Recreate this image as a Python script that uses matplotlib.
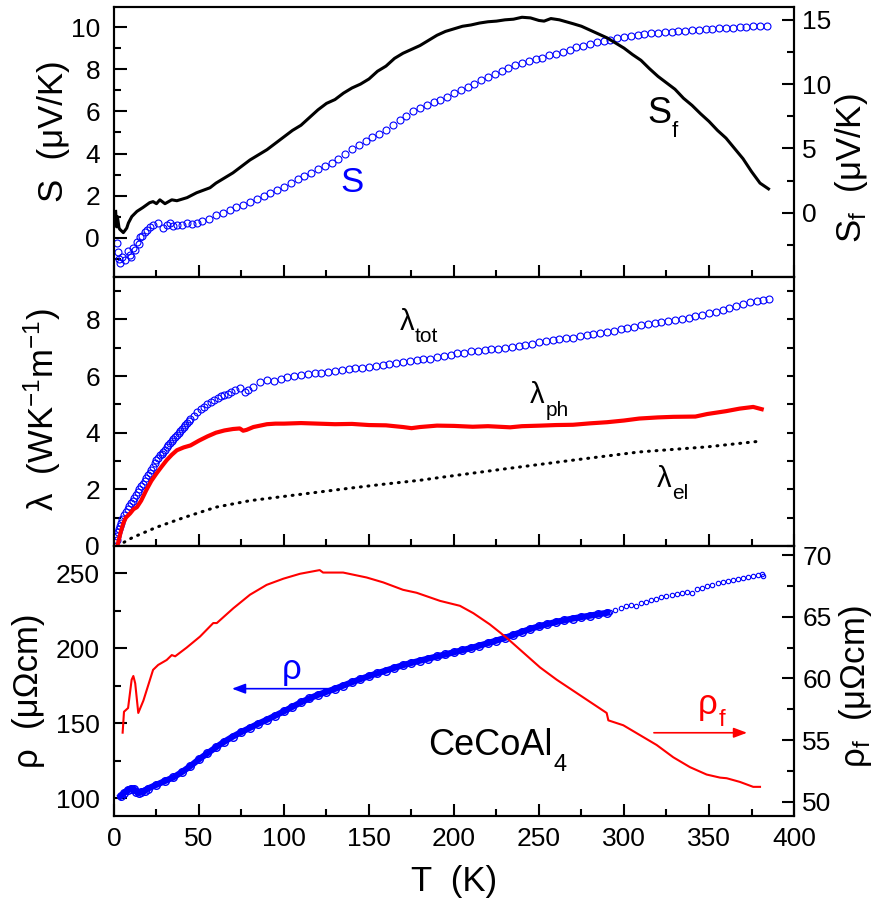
import matplotlib
matplotlib.use('Agg')
import matplotlib.pyplot as plt
from matplotlib.ticker import MultipleLocator, FixedLocator
import numpy as np

plt.rcParams['font.family'] = ['Liberation Sans', 'DejaVu Sans']
plt.rcParams['mathtext.fontset'] = 'custom'
plt.rcParams['mathtext.rm'] = 'Liberation Sans'
plt.rcParams['mathtext.it'] = 'Liberation Sans:italic'

# --- thermopower S (left axis) ---
T_S = [2.0, 2.5, 3.0, 3.5, 5.0, 6.5, 8.0, 9.4, 10.3, 11.0, 12.3, 13.5, 14.5, 15.3, 16.5,
       18.0, 19.5, 21.0, 23.0, 26.0, 29.0, 31.0, 33.0, 35.0, 37.0, 40.0, 43.0, 46.0, 48.6,
       52, 56, 60, 64, 68, 72, 76, 80, 84, 88, 92, 96, 100, 104, 108, 112, 116, 120,
       124, 128, 132, 136, 140, 144, 148, 152, 156, 160, 164, 168, 172, 176, 180, 184,
       188, 192, 196, 200, 204, 208, 212, 216, 220, 224, 228, 232, 236, 240, 244, 248,
       252, 256, 260, 264, 268, 272, 276, 280, 284, 288, 292, 296, 300, 304, 308, 312,
       316, 320, 324, 328, 332, 336, 340, 344, 348, 352, 356, 360, 364, 368, 372, 376,
       380, 384]
S_vals = [-0.25, -0.66, -1.0, -1.2, -0.9, -1.05, -0.6, -0.8, -0.9, -0.47, -0.55, -0.2,
          -0.3, 0.05, 0.1, 0.28, 0.4, 0.52, 0.62, 0.71, 0.47, 0.6, 0.71, 0.55, 0.62, 0.6,
          0.71, 0.66, 0.71, 0.8, 0.92, 1.08, 1.2, 1.32, 1.45, 1.57, 1.7, 1.83, 1.97, 2.12,
          2.28, 2.43, 2.6, 2.78, 2.95, 3.1, 3.25, 3.4, 3.57, 3.75, 3.98, 4.2, 4.42, 4.6,
          4.78, 4.95, 5.13, 5.35, 5.6, 5.8, 6.0, 6.15, 6.3, 6.45, 6.55, 6.7, 6.85, 7.0,
          7.15, 7.32, 7.5, 7.65, 7.78, 7.92, 8.05, 8.18, 8.28, 8.38, 8.47, 8.55, 8.65,
          8.73, 8.83, 8.93, 9.03, 9.12, 9.2, 9.27, 9.34, 9.4, 9.46, 9.52, 9.58, 9.63, 9.67,
          9.7, 9.73, 9.76, 9.78, 9.8, 9.83, 9.85, 9.88, 9.9, 9.91, 9.93, 9.95, 9.97, 9.98,
          10.0, 10.03, 10.05, 10.07]

# --- S_f (right axis) ---
T_Sf = [1.0, 1.5, 2.0, 3.0, 3.5, 5.5, 7.5, 8.5, 10.5, 13.5, 17, 21, 23, 25, 27, 30, 34,
        37, 43, 48.6, 56.5, 60, 65, 70, 75, 80, 85, 90, 95, 100, 105, 110, 115, 120, 125,
        130, 135, 140, 145, 150, 155, 160, 165, 170, 175, 180, 185, 190, 195, 200, 205,
        210, 215, 220, 225, 230, 235, 240, 245, 250, 253, 257, 262, 266, 270, 275, 280,
        285, 290, 295, 300, 305, 310, 315, 320, 325, 330, 335, 340, 345, 350, 355, 360,
        365, 370, 375, 380, 385]
Sf_vals = [0.1, -1.1, -0.3, -1.2, -1.3, -1.55, -1.2, -0.8, -0.3, 0.1, 0.4, 0.78, 0.86,
           0.7, 1.0, 0.7, 1.0, 0.93, 1.17, 1.55, 1.94, 2.3, 2.7, 3.1, 3.6, 4.1, 4.5, 4.9,
           5.4, 5.9, 6.4, 6.8, 7.4, 8.0, 8.5, 8.8, 9.3, 9.7, 10.0, 10.4, 11.0, 11.4, 12.0,
           12.4, 12.7, 13.0, 13.4, 13.8, 14.1, 14.3, 14.5, 14.6, 14.75, 14.85, 14.9, 15.0,
           15.05, 15.2, 15.15, 14.95, 14.9, 15.1, 15.0, 14.85, 14.7, 14.5, 14.2, 13.9,
           13.6, 13.2, 12.8, 12.3, 11.85, 11.2, 10.6, 10.1, 9.6, 8.9, 8.35, 7.7, 7.1, 6.4,
           5.8, 5.0, 4.2, 3.2, 2.3, 1.85]

# --- thermal conductivity ---
T_tot = [1.5, 2, 2.5, 3, 3.5, 4, 5, 6, 7, 8, 9, 10, 11, 12, 13, 14, 15, 16, 17, 18, 19,
         20, 21, 22, 23, 24, 25, 26, 27, 28, 29, 30, 31, 32, 33, 34, 35, 36, 37, 38, 39,
         40, 41, 42, 43, 44, 45, 47, 49, 51, 53, 55, 57, 59, 61, 63, 65, 67, 69, 71, 74,
         77, 79, 82, 86, 90, 94, 98, 102, 106, 110, 114, 118, 122, 126, 130, 134, 138,
         142, 146, 150, 154, 158, 162, 166, 170, 174, 178, 182, 186, 190, 194, 198, 202,
         206, 210, 214, 218, 222, 226, 230, 234, 238, 242, 246, 250, 254, 258, 262, 266,
         270, 274, 278, 282, 286, 290, 294, 298, 302, 306, 310, 314, 318, 322, 326, 330,
         334, 338, 342, 346, 350, 354, 358, 362, 366, 370, 374, 378, 382, 385]
lam_tot = [0.2, 0.35, 0.5, 0.6, 0.7, 0.8, 0.95, 1.1, 1.2, 1.3, 1.4, 1.5, 1.58, 1.68, 1.8,
           1.9, 2.0, 2.1, 2.2, 2.3, 2.4, 2.5, 2.58, 2.7, 2.8, 2.92, 3.02, 3.1, 3.2, 3.26,
           3.32, 3.4, 3.5, 3.55, 3.62, 3.7, 3.78, 3.85, 3.92, 3.98, 4.05, 4.12, 4.2, 4.27,
           4.35, 4.42, 4.5, 4.6, 4.72, 4.82, 4.92, 5.0, 5.08, 5.16, 5.23, 5.28, 5.34, 5.38,
           5.44, 5.5, 5.58, 5.45, 5.5, 5.62, 5.78, 5.85, 5.84, 5.9, 5.95, 6.0, 6.03, 6.07,
           6.1, 6.12, 6.15, 6.18, 6.2, 6.25, 6.28, 6.3, 6.33, 6.36, 6.4, 6.43, 6.47, 6.5,
           6.52, 6.55, 6.6, 6.62, 6.66, 6.7, 6.75, 6.8, 6.83, 6.87, 6.9, 6.93, 6.95, 6.97,
           6.99, 7.02, 7.06, 7.1, 7.15, 7.2, 7.23, 7.27, 7.3, 7.33, 7.35, 7.4, 7.44, 7.48,
           7.52, 7.56, 7.6, 7.65, 7.7, 7.75, 7.8, 7.84, 7.88, 7.92, 7.95, 7.98, 8.02, 8.06,
           8.12, 8.17, 8.22, 8.28, 8.34, 8.4, 8.46, 8.54, 8.6, 8.66, 8.7, 8.73]

T_ph = [2, 3, 4, 5.5, 7, 9.5, 11.5, 13.5, 16, 19, 22, 25, 28, 31, 34, 37, 41, 45, 50, 55,
        60, 65, 70, 74, 76, 78, 82, 86, 90, 95, 100, 110, 120, 130, 140, 150, 160, 170,
        175, 180, 190, 200, 211, 220, 233, 240, 251, 260, 270, 280, 290, 300, 309, 320,
        329, 342, 349, 360, 368, 376, 381]
lam_ph = [0.0, 0.25, 0.5, 0.8, 1.0, 1.15, 1.3, 1.37, 1.6, 1.97, 2.3, 2.56, 2.8, 3.03,
          3.22, 3.38, 3.48, 3.55, 3.72, 3.87, 4.0, 4.08, 4.13, 4.15, 4.07, 4.1, 4.2, 4.25,
          4.3, 4.32, 4.32, 4.34, 4.32, 4.3, 4.31, 4.27, 4.26, 4.2, 4.16, 4.2, 4.25, 4.24,
          4.21, 4.23, 4.19, 4.23, 4.25, 4.27, 4.28, 4.33, 4.37, 4.43, 4.5, 4.54, 4.56,
          4.57, 4.66, 4.76, 4.85, 4.91, 4.83]

T_el = [2, 11, 25, 41, 60, 80, 100, 120, 140, 160, 180, 192, 231, 270, 309, 349, 380]
lam_el = [0.0, 0.3, 0.66, 1.0, 1.37, 1.6, 1.75, 1.9, 2.05, 2.19, 2.32, 2.42, 2.73, 3.03,
          3.32, 3.5, 3.7]

# --- resistivity rho (left axis), dense part and sparse part ---
T_rho = [4, 6, 8, 10, 11.5, 13, 14.5, 16, 18, 20, 25, 30, 35, 40, 45, 50, 55, 60, 65, 70,
         75, 80, 85, 90, 95, 100, 105, 110, 115, 120, 125, 130, 135, 140, 145, 150, 155,
         160, 165, 170, 175, 180, 185, 190, 195, 200, 205, 210, 215, 220, 225, 230, 235,
         240, 245, 250, 255, 260, 265, 270, 275, 280, 285, 290]
rho_vals = [101.5, 103.5, 105.5, 106.5, 106.5, 104.5, 103.5, 104, 105, 106.5, 109, 111.5,
            114, 117.5, 121.5, 126, 130, 134, 137.8, 141.2, 144.2, 147, 149.8, 152.4,
            155.2, 158, 161, 164, 166.6, 169, 171, 173, 175.2, 177.4, 179.5, 181.5, 183.4,
            185.2, 187, 188.8, 190.3, 191.8, 193.2, 194.6, 196, 197.4, 198.8, 200.2, 201.8,
            203.5, 205.2, 207, 209, 211, 213, 214.7, 216.2, 217.6, 218.8, 219.9, 220.9,
            221.8, 222.8, 223.7]
T_rho_hi = [292, 295, 298, 301, 304, 307, 310, 313, 316, 319, 322, 325, 328, 331, 334,
            337, 340, 343, 346, 349, 352, 355, 358, 361, 364, 367, 370, 373, 376, 379,
            381, 382]
rho_hi = [224.3, 225.5, 227.0, 228.0, 228.8, 228.5, 230.3, 231.2, 232.2, 233.1, 234.0,
          234.8, 235.7, 236.3, 236.9, 237.8, 237.2, 239.3, 240.5, 241.5, 242.4, 243.3,
          244.2, 244.9, 245.6, 246.2, 246.7, 247.3, 248.0, 248.8, 249.5, 248.3]

# --- rho_f (right axis) ---
T_rf = [5.1, 5.9, 8.3, 10.4, 11.4, 12.5, 14.3, 17.3, 23, 26, 31, 34, 36, 42.7, 50.6, 58.4,
        60.5, 70.2, 80, 89.8, 99.6, 109.4, 121, 123, 134.8, 148.6, 158.4, 170, 178, 191.8,
        203.5, 211.4, 221, 231, 240.8, 250.6, 260.4, 270.2, 280, 289.8, 290.8, 299.6,
        309.4, 319.2, 329, 338.8, 348.6, 356.5, 360.4, 368.2, 376, 380]
rf_vals = [55.6, 57.3, 57.6, 59.9, 60.2, 59.6, 57.2, 58.2, 60.7, 61.1, 61.5, 61.9, 61.8,
           62.5, 63.4, 64.5, 64.5, 65.7, 66.8, 67.6, 68.1, 68.5, 68.8, 68.6, 68.6, 68.2,
           67.8, 67.2, 66.96, 66.3, 65.9, 65.3, 64.4, 63.3, 62.1, 60.9, 59.9, 59.0, 58.1,
           57.2, 56.6, 56.2, 55.4, 54.6, 53.6, 52.8, 52.2, 51.95, 51.9, 51.6, 51.2, 51.2]

blue = '#0000ff'
red = '#ff0000'

fig = plt.figure(figsize=(8.76, 9.06), dpi=100)
L, W = 0.1301, 0.7763
ax1 = fig.add_axes([L, 0.6943, W, 0.2980])
ax2 = fig.add_axes([L, 0.3974, W, 0.2969])
ax3 = fig.add_axes([L, 0.0997, W, 0.2977])
ax1r = ax1.twinx()
ax2r = ax2.twinx()
ax3r = ax3.twinx()


def style(ax):
    for sp in ax.spines.values():
        sp.set_linewidth(1.5)
    ax.tick_params(which='both', direction='in', width=1.5, labelsize=19)
    ax.tick_params(which='major', length=9)
    ax.tick_params(which='minor', length=5)
    ax.tick_params(axis='y', pad=10)
    ax.tick_params(axis='x', pad=8)


def sub_label(ax, x, y, main, sub, size, subsize, drop, color='black'):
    # main symbol at (x, y) on its baseline, subscript set lower by `drop` points
    t = ax.text(x, y, main, fontsize=size, color=color, va='baseline')
    ax.annotate(sub, xy=(1, y), xycoords=(t, 'data'), xytext=(0.5, -drop),
                textcoords='offset points', fontsize=subsize, color=color,
                va='baseline', ha='left')


for ax in (ax1, ax2, ax3):
    ax.set_xlim(0, 400)
    ax.xaxis.set_major_locator(MultipleLocator(50))
    ax.xaxis.set_minor_locator(MultipleLocator(25))
    style(ax)
for ax in (ax1, ax2):
    ax.tick_params(axis='x', labelbottom=False)
for ax in (ax1r, ax2r, ax3r):
    style(ax)
    ax.tick_params(axis='y', pad=6)

# top panel
ax1.plot(T_S, S_vals, 'o', mfc='none', mec=blue, ms=5, mew=0.8, zorder=3)
ax1r.plot(T_Sf, Sf_vals, '-', color='black', lw=2.2)
ax1.set_ylim(-1.85, 10.95)
ax1.yaxis.set_major_locator(FixedLocator([0, 2, 4, 6, 8, 10]))
ax1.yaxis.set_minor_locator(FixedLocator([-1, 1, 3, 5, 7, 9]))
ax1r.set_ylim(-5, 16)
ax1r.yaxis.set_major_locator(FixedLocator([0, 5, 10, 15]))
ax1r.yaxis.set_minor_locator(FixedLocator([-2.5, 2.5, 7.5, 12.5]))
ax1.set_ylabel('S  (μV/K)', fontsize=25)
ax1.yaxis.set_label_coords(-0.0647, 0.539)
ax1r.set_ylabel(r'$\mathregular{S_f}$  (μV/K)', fontsize=25)
ax1r.yaxis.set_label_coords(1.057, 0.404)
ax1.text(133, 2.18, 'S', color=blue, fontsize=25, va='baseline')
sub_label(ax1, 313.5, 5.45, 'S', 'f', 26, 16, 10)

# middle panel
ax2.plot(T_tot, lam_tot, 'o', mfc='none', mec=blue, ms=5, mew=0.8, zorder=3)
ax2.plot(T_ph, lam_ph, '-', color=red, lw=3, zorder=4)
ax2.plot(T_el, lam_el, color='black', lw=2.2, linestyle=(0, (0.3, 2.2)),
         dash_capstyle='round', zorder=2)
ax2.set_ylim(0, 9.5)
ax2.yaxis.set_major_locator(FixedLocator([0, 2, 4, 6, 8]))
ax2.yaxis.set_minor_locator(FixedLocator([1, 3, 5, 7, 9]))
ax2r.set_ylim(0, 9.5)
ax2r.yaxis.set_major_locator(MultipleLocator(1))
ax2r.tick_params(axis='y', which='major', length=5, labelright=False)
ax2.set_ylabel(r'$\mathregular{\lambda\ \ (WK^{-1}m^{-1})}$', fontsize=25)
ax2.yaxis.set_label_coords(-0.075, 0.506)
sub_label(ax2, 168, 7.62, 'λ', 'tot', 21, 15, 8.6)
sub_label(ax2, 244.7, 5.04, 'λ', 'ph', 21, 15, 9.4)
sub_label(ax2, 319.4, 2.07, 'λ', 'el', 21, 15, 8.6)

# bottom panel
ax3.plot(T_rho, rho_vals, '-', color=blue, lw=4.5, zorder=3)
ax3.plot(T_rho, rho_vals, 'o', mfc='none', mec=blue, ms=5.5, mew=1, zorder=3)
ax3.plot(T_rho_hi, rho_hi, 'o', mfc='none', mec=blue, ms=3.2, mew=0.8, zorder=3)
ax3r.plot(T_rf, rf_vals, '-', color=red, lw=1.5)
ax3.set_ylim(88.4, 268.3)
ax3.yaxis.set_major_locator(FixedLocator([100, 150, 200, 250]))
ax3.yaxis.set_minor_locator(FixedLocator([125, 175, 225]))
ax3r.set_ylim(48.86, 70.76)
ax3r.yaxis.set_major_locator(FixedLocator([50, 55, 60, 65, 70]))
ax3r.yaxis.set_minor_locator(FixedLocator([52.5, 57.5, 62.5, 67.5]))
ax3.set_ylabel('ρ  (μΩcm)', fontsize=25)
ax3.yaxis.set_label_coords(-0.1015, 0.462)
ax3r.set_ylabel(r'$\mathregular{\rho_f}$  (μΩcm)', fontsize=25)
ax3r.yaxis.set_label_coords(1.063, 0.477)
ax3.set_xlabel('T  (K)', fontsize=25, labelpad=10)

ax3.annotate('', xy=(69.4, 173.1), xytext=(126, 173.1),
             arrowprops=dict(arrowstyle='-|>,head_length=0.8,head_width=0.3',
                             color=blue, lw=1.2, shrinkA=0, shrinkB=0))
ax3.text(104.7, 179.4, 'ρ', color=blue, fontsize=25, ha='center', va='baseline')
ax3.annotate('', xy=(372.4, 143.7), xytext=(317.6, 143.7),
             arrowprops=dict(arrowstyle='-|>,head_length=0.8,head_width=0.3',
                             color=red, lw=1.2, shrinkA=0, shrinkB=0))
sub_label(ax3, 343.5, 156, 'ρ', 'f', 25, 17, 8.6, color=red)
sub_label(ax3, 184.7, 129, 'CeCoAl', '4', 26, 17, 12)

fig.savefig('out.png', dpi=100)
